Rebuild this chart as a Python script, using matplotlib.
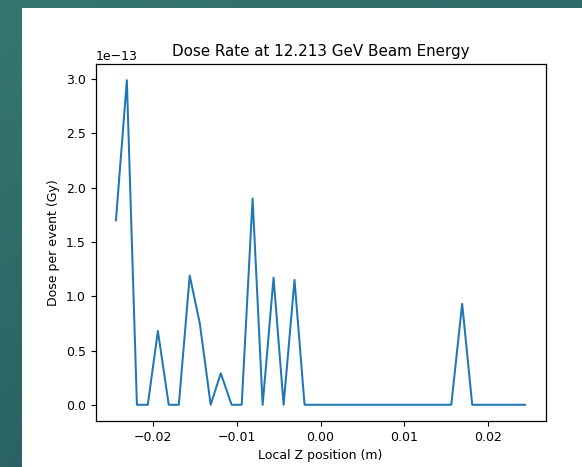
import matplotlib
matplotlib.use("Agg")
import numpy as np
import matplotlib.pyplot as plt
from matplotlib.colors import LinearSegmentedColormap
from matplotlib.patches import Rectangle

# === DATA ===
z_pos = [-0.0244, -0.0231, -0.0219, -0.0206, -0.0194, -0.0181, -0.0169, -0.0156,
         -0.0144, -0.0131, -0.0119, -0.0106, -0.0094, -0.0081, -0.0069, -0.0056,
         -0.0044, -0.0031, -0.0019, -0.0006, 0.0006, 0.0019, 0.0031, 0.0044,
         0.0056, 0.0069, 0.0081, 0.0094, 0.0106, 0.0119, 0.0131, 0.0144,
         0.0156, 0.0169, 0.0181, 0.0194, 0.0206, 0.0219, 0.0231, 0.0244]
dose = [1.70, 2.99, 0.0, 0.0, 0.68, 0.0, 0.0, 1.19,
        0.75, 0.0, 0.29, 0.0, 0.0, 1.90, 0.0, 1.17,
        0.0, 1.15, 0.0, 0.0, 0.0, 0.0, 0.0, 0.0,
        0.0, 0.0, 0.0, 0.0, 0.0, 0.0, 0.0, 0.0,
        0.0, 0.93, 0.0, 0.0, 0.0, 0.0, 0.0, 0.0]
dose = [d * 1e-13 for d in dose]

W, H = 582, 467
fig = plt.figure(figsize=(W / 100, H / 100), dpi=100)

# teal slide background (soft diagonal gradient)
bg = fig.add_axes([0, 0, 1, 1], zorder=-20)
bg.axis("off")
gx, gy = np.meshgrid(np.linspace(0, 1, 64), np.linspace(0, 1, 64))
teal = LinearSegmentedColormap.from_list("teal", ["#35776f", "#23565c"])
bg.imshow(0.6 * gy + 0.4 * gx, cmap=teal, aspect="auto", extent=[0, 1, 0, 1],
          origin="upper")
# white screenshot area
bg.add_patch(Rectangle((22 / W, 0), 1 - 22 / W, (H - 8) / H,
                       facecolor="white", edgecolor="none"))
bg.set_xlim(0, 1)
bg.set_ylim(0, 1)

ax = fig.add_axes([95.5 / W, (H - 421) / H, 450 / W, (421 - 64) / H])
ax.plot(z_pos, dose, color="#1f77b4", lw=1.45)

ax.set_title("Dose Rate at 12.213 GeV Beam Energy", fontsize=10.9)
ax.set_xlabel("Local Z position (m)", fontsize=9)
ax.set_ylabel("Dose per event (Gy)", fontsize=9)
ax.tick_params(labelsize=9)
ax.yaxis.get_offset_text().set_fontsize(9)
for s in ax.spines.values():
    s.set_linewidth(0.9)

fig.savefig("out.png", dpi=100)
